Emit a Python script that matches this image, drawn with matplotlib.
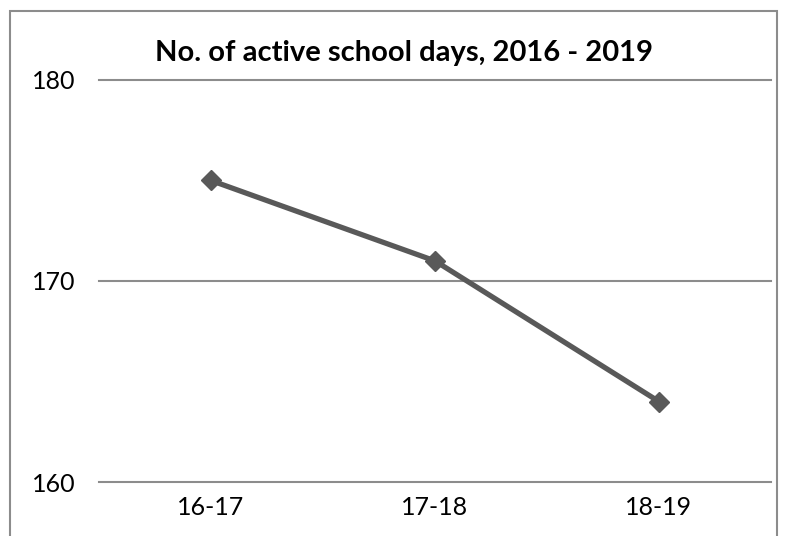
import matplotlib
matplotlib.use("Agg")
import matplotlib.pyplot as plt
from matplotlib.patches import Rectangle

years = ["16-17", "17-18", "18-19"]
days = [175, 171, 164]
yticks = [160, 170, 180]

plt.rcParams["font.family"] = ["Lato", "DejaVu Sans"]

fig = plt.figure(figsize=(7.99, 5.36), dpi=100)
W, H = 799, 536
# plot area in pixels: x 99..771, y 80 (180) .. 482 (160)
ax = fig.add_axes([99 / W, 1 - 482 / H, (771 - 99) / W, (482 - 80) / H])

x = range(len(years))
ax.plot(x, days, color="#595959", lw=3.8, marker="D", ms=10.5, zorder=3)

ax.set_xlim(-0.5, len(years) - 0.5)
ax.set_ylim(160, 180)
ax.set_yticks(yticks)
ax.set_xticks(list(x), years)
for y in yticks:
    ax.axhline(y, color="#8c8c8c", lw=1.5, zorder=1, clip_on=False)
for s in ax.spines.values():
    s.set_visible(False)
ax.tick_params(length=0, labelsize=18, colors="black")
ax.tick_params(axis="y", pad=17)
ax.tick_params(axis="x", pad=10)

fig.text(404 / W, 1 - 53 / H, "No. of active school days, 2016 - 2019",
         ha="center", va="center", fontsize=21, fontweight="bold")

# chart border
fig.patches.append(Rectangle((10 / W, -0.05), (777 - 10) / W, 1.05 - 11 / H,
                             transform=fig.transFigure, fill=False,
                             edgecolor="#8c8c8c", lw=1.5))

fig.savefig("out.png", dpi=100)
